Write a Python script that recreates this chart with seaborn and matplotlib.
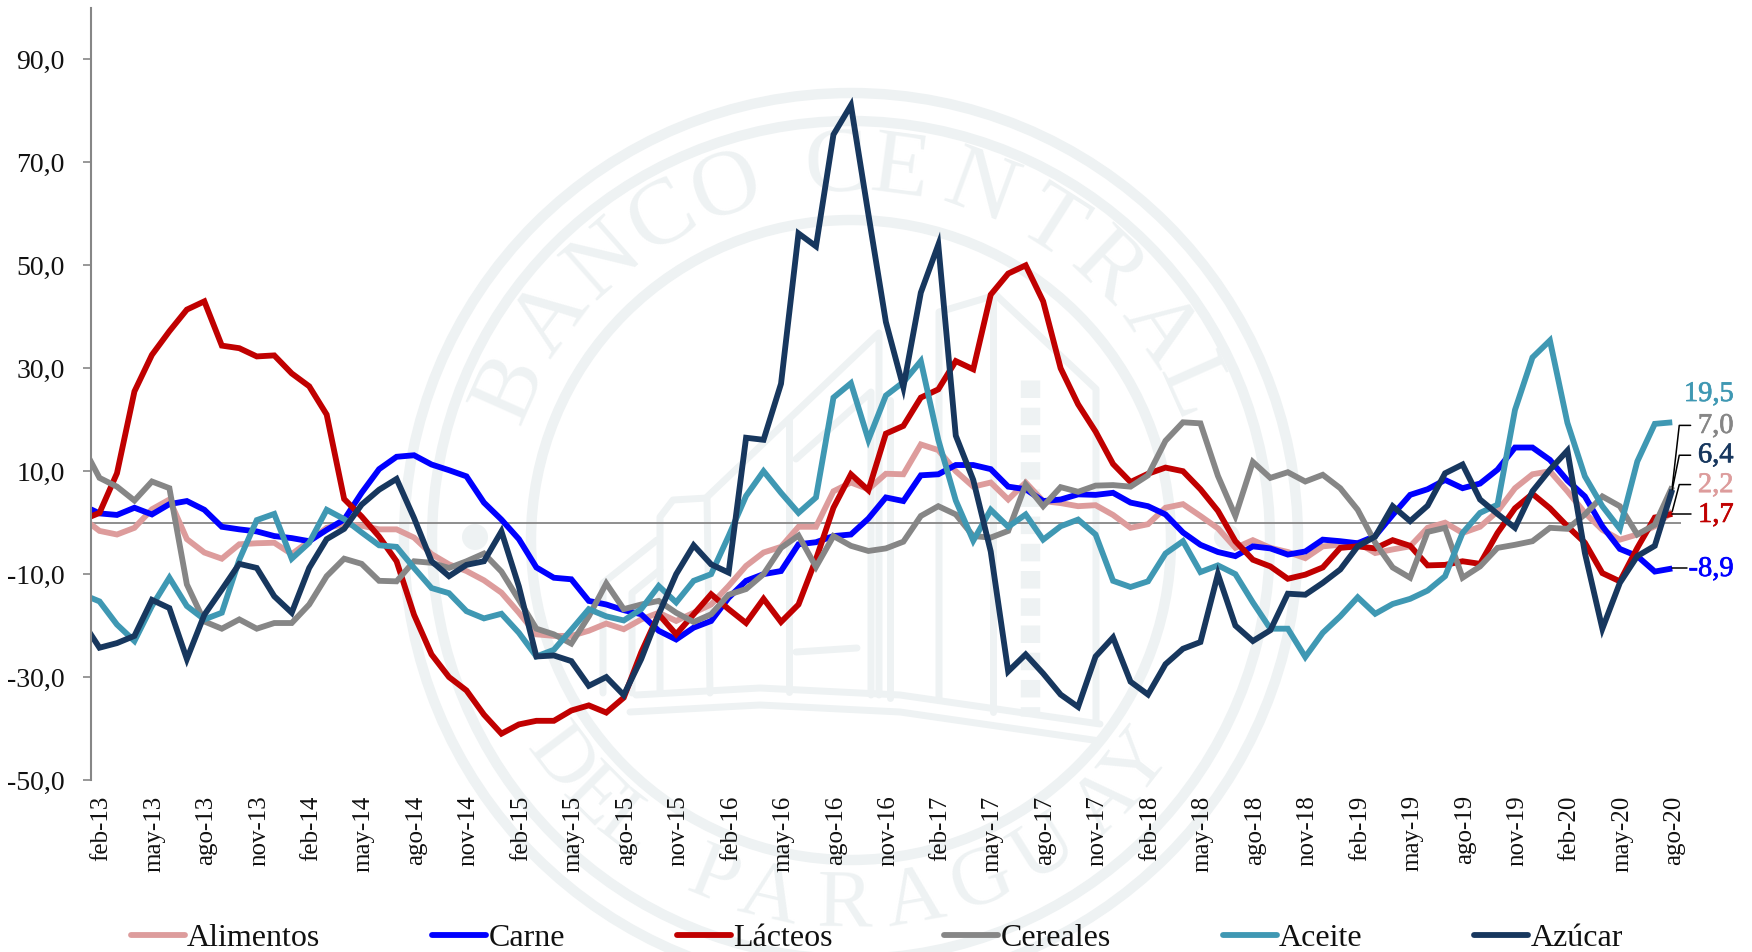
"""Variación interanual de precios de alimentos (FAO), feb-13 a ago-20."""

from __future__ import annotations

import matplotlib

matplotlib.use("Agg")

import matplotlib.patheffects as pe
import matplotlib.pyplot as plt
import matplotlib.transforms as mtrans
import numpy as np
import pandas as pd
import seaborn as sns

# Un punto extra (ene-13) al inicio: queda recortado por el eje izquierdo.
ALIMENTOS = [1.0,
             -1.6, -2.3, -1.0, 2.6, 4.5, -3.2, -5.8, -7.0, -4.2, -4.0,
             -3.9, -6.1, -3.6, -1.0, -0.3, -0.6, -1.3, -1.3, -2.9, -6.1,
             -8.1, -9.4, -11.2, -13.6, -17.5, -21.7, -22.0, -22.0, -21.0, -19.6,
             -20.7, -18.8, -17.5, -19.1, -17.5, -15.9, -12.3, -8.4, -5.8, -4.7,
             -0.8, -0.8, 6.1, 7.8, 6.5, 9.5, 9.4, 15.2, 14.1, 10.0,
             7.0, 7.8, 4.5, 7.8, 4.2, 3.8, 3.2, 3.4, 1.5, -1.0,
             -0.3, 2.9, 3.6, 1.3, -1.1, -4.9, -3.4, -4.9, -5.7, -6.9,
             -4.6, -4.3, -3.9, -5.9, -5.2, -4.6, -1.0, 0.0, -2.0, -0.8,
             2.2, 6.7, 9.4, 10.0, 6.1, 1.9, -1.4, -3.3, -2.3, -0.7,
             2.2]
CARNE = [3.4,
         1.8, 1.5, 2.9, 1.6, 3.6, 4.2, 2.5, -0.8, -1.3, -1.7,
         -2.6, -3.0, -3.6, -1.4, 0.6, 5.8, 10.4, 12.8, 13.1, 11.3,
         10.2, 9.0, 3.9, 0.6, -3.2, -8.7, -10.7, -11.0, -15.2, -15.9,
         -17.0, -17.8, -21.0, -22.7, -20.4, -19.1, -14.6, -11.3, -10.0, -9.4,
         -4.2, -3.8, -2.6, -2.3, 0.8, 4.9, 4.2, 9.2, 9.4, 11.2,
         11.2, 10.4, 7.0, 6.5, 4.2, 4.5, 5.5, 5.4, 5.8, 3.9,
         3.2, 1.6, -1.9, -4.3, -5.7, -6.5, -4.6, -5.0, -6.2, -5.6,
         -3.3, -3.6, -4.0, -2.6, 1.5, 5.4, 6.5, 8.3, 6.7, 7.6,
         10.3, 14.6, 14.6, 12.2, 8.2, 5.1, -0.7, -5.1, -6.5, -9.5,
         -8.9]
LACTEOS = [0.5,
           1.9, 9.6, 25.5, 32.6, 37.2, 41.4, 43.0, 34.4, 33.9, 32.3,
           32.5, 29.0, 26.5, 21.0, 4.6, 1.2, -2.7, -7.5, -17.9, -25.6,
           -30.0, -32.6, -37.3, -41.0, -39.2, -38.5, -38.5, -36.5, -35.5, -36.9,
           -34.0, -25.2, -17.8, -21.7, -17.8, -13.9, -16.8, -19.5, -14.8, -19.3,
           -15.9, -7.1, 2.9, 9.4, 6.3, 17.3, 18.8, 24.3, 25.9, 31.4,
           29.8, 44.3, 48.4, 50.0, 43.0, 30.0, 23.0, 17.7, 11.4, 7.9,
           9.5, 10.7, 10.0, 6.5, 2.3, -3.6, -7.2, -8.5, -10.9, -10.1,
           -8.7, -4.9, -4.6, -5.0, -3.4, -4.5, -8.3, -8.2, -7.5, -8.0,
           -2.0, 2.8, 5.6, 2.8, -0.7, -3.9, -9.8, -11.4, -4.9, 1.0,
           1.7]
CEREALES = [15.1,
            8.7, 7.0, 4.3, 8.0, 6.7, -12.0, -19.2, -20.6, -18.8, -20.6,
            -19.5, -19.5, -15.9, -10.4, -7.0, -8.0, -11.3, -11.4, -7.5, -7.8,
            -8.8, -7.5, -6.0, -9.5, -15.0, -20.6, -21.7, -23.5, -18.2, -11.8,
            -16.8, -15.9, -15.2, -17.5, -19.3, -17.8, -14.0, -12.9, -10.0, -4.9,
            -2.5, -8.6, -2.6, -4.5, -5.5, -5.0, -3.7, 1.3, 3.2, 1.6,
            -2.6, -2.9, -1.6, 7.4, 3.2, 6.9, 6.0, 7.2, 7.3, 7.0,
            9.2, 15.9, 19.5, 19.3, 9.1, 1.3, 11.8, 8.7, 9.8, 8.0,
            9.3, 6.7, 2.5, -3.9, -8.7, -10.7, -1.8, -1.0, -10.7, -8.5,
            -4.9, -4.3, -3.6, -1.0, -1.2, 1.6, 5.1, 3.2, -2.3, -0.4,
            7.0]
ACEITE = [-13.9,
          -15.3, -19.8, -23.0, -16.2, -10.7, -16.2, -18.8, -17.5, -7.2, 0.5,
          1.7, -7.0, -3.9, 2.5, 0.7, -1.9, -4.4, -4.7, -8.8, -12.7,
          -13.7, -17.2, -18.6, -17.7, -21.4, -26.0, -24.7, -20.8, -16.8, -18.2,
          -19.0, -16.8, -12.3, -15.5, -11.3, -10.0, -2.6, 5.2, 10.0, 5.8,
          1.9, 4.9, 24.3, 27.1, 16.1, 24.7, 27.3, 31.4, 16.1, 4.3,
          -3.5, 2.5, -0.8, 1.6, -3.3, -0.7, 0.6, -2.3, -11.3, -12.5,
          -11.4, -6.0, -3.6, -9.6, -8.3, -10.0, -15.5, -20.6, -20.6, -26.1,
          -21.4, -18.2, -14.5, -17.7, -15.8, -14.8, -13.2, -10.4, -2.0, 1.9,
          3.5, 21.9, 32.1, 35.4, 19.4, 9.0, 3.2, -1.2, 11.9, 19.2,
          19.5]
AZUCAR = [-19.1,
          -24.3, -23.4, -22.0, -15.0, -16.6, -26.5, -17.9, -13.0, -8.0, -8.8,
          -14.3, -17.5, -8.8, -3.2, -1.2, 3.5, 6.4, 8.5, 0.9, -7.5,
          -10.4, -8.2, -7.5, -1.7, -12.4, -26.0, -25.8, -26.9, -31.7, -30.0,
          -33.5, -26.5, -17.8, -10.0, -4.4, -8.1, -9.7, 16.5, 16.1, 27.0,
          56.2, 53.7, 75.4, 81.1, 59.9, 39.0, 26.3, 44.7, 54.0, 16.9,
          8.3, -5.6, -28.9, -25.6, -29.3, -33.4, -35.8, -26.0, -22.3, -30.9,
          -33.4, -27.5, -24.5, -23.2, -10.0, -20.0, -23.0, -20.9, -13.8, -14.0,
          -11.7, -9.1, -4.6, -2.7, 3.2, 0.3, 3.3, 9.6, 11.3, 4.5,
          1.7, -1.0, 6.1, 10.3, 14.0, -5.9, -20.6, -11.7, -6.5, -4.5,
          6.4]

SERIES = ["Alimentos", "Carne", "Lácteos", "Cereales", "Aceite", "Azúcar"]
COLORES = ["#DD9C9C", "#0000FF", "#C00000", "#868686", "#3F98B3", "#17375E"]

ETIQUETAS_X = ["feb-13", "may-13", "ago-13", "nov-13", "feb-14", "may-14", "ago-14", "nov-14",
               "feb-15", "may-15", "ago-15", "nov-15", "feb-16", "may-16", "ago-16", "nov-16",
               "feb-17", "may-17", "ago-17", "nov-17", "feb-18", "may-18", "ago-18", "nov-18",
               "feb-19", "may-19", "ago-19", "nov-19", "feb-20", "may-20", "ago-20"]
TICKS_Y = [-50, -30, -10, 10, 30, 50, 70, 90]

# Rótulos finales: serie, texto, altura del texto y codo de la línea guía.
ROTULOS = [("Aceite", "19,5", 24.9, None),
           ("Cereales", "7,0", 18.7, 18.9),
           ("Azúcar", "6,4", 13.0, 13.1),
           ("Alimentos", "2,2", 7.2, 7.4),
           ("Lácteos", "1,7", 1.4, 1.7),
           ("Carne", "-8,9", -9.1, -8.9)]

GRIS_SELLO = "#EEF2F3"
W, H = 1752, 952

sns.set_theme(style="white")
plt.rcParams["font.family"] = ["Liberation Serif", "DejaVu Serif"]


def dibujar_sello(fig):
    """Marca de agua del banco, en coordenadas de píxel de la figura."""
    ax = fig.add_axes([0, 0, 1, 1], zorder=0)
    ax.set_xlim(0, W)
    ax.set_ylim(H, 0)
    ax.axis("off")
    cx, cy = 851, 540
    for r in (447, 419, 320):
        ax.add_patch(plt.Circle((cx, cy), r, fill=False, ec=GRIS_SELLO, lw=7.5))
    for x in (475, 1227):
        ax.add_patch(plt.Circle((x, 537), 13, fc=GRIS_SELLO, ec="none"))

    arriba = zip("BANCOCENTRAL", [-66, -53.5, -41.5, -30.4, -19.5, -2.3, 7.6, 20.3, 32.5, 43.4, 55.6, 66])
    for letra, ang in arriba:
        t = np.radians(ang)
        ax.text(cx + 372 * np.sin(t), cy - 372 * np.cos(t), letra, rotation=-ang, rotation_mode="anchor",
                ha="center", va="center", fontsize=68, color=GRIS_SELLO)
    abajo = zip("DELPARAGUAY", [-53, -45, -38, -22, -13, -1, 10, 21, 32, 44, 52])
    for letra, ang in abajo:
        t = np.radians(ang)
        ax.text(cx + 366 * np.sin(t), cy + 366 * np.cos(t), letra, rotation=ang, rotation_mode="anchor",
                ha="center", va="center", fontsize=60, color=GRIS_SELLO)

    trazos = [
        [(603, 693), (603, 583), (657, 540)],
        [(632, 693), (632, 593), (660, 570)],
        [(660, 690), (660, 517), (673, 500), (707, 498), (710, 693)],
        [(707, 497), (879, 333), (879, 695)],
        [(796, 459), (871, 392), (871, 695)],
        [(789, 420), (789, 692)],
        [(890, 400), (890, 698)],
        [(939, 700), (939, 312), (996, 295), (1096, 389), (1096, 722)],
        [(993, 295), (993, 712)],
        [(796, 652), (857, 648)],
        [(636, 695), (760, 688), (900, 695), (1100, 724)],
        [(630, 712), (760, 705), (900, 712), (1100, 741)],
    ]
    for trazo in trazos:
        xs, ys = zip(*trazo)
        ax.plot(xs, ys, color=GRIS_SELLO, lw=5, solid_joinstyle="round")
    ax.plot([1030, 1030], [380, 716], color=GRIS_SELLO, lw=14, ls=(0, (0.9, 0.5)))


def main():
    fig = plt.figure(figsize=(W / 100, H / 100), dpi=100)
    dibujar_sello(fig)

    ax = fig.add_axes([91 / W, 1 - 780 / H, 1590 / W, 772 / H], zorder=1)
    ax.patch.set_alpha(0)

    valores = [ALIMENTOS, CARNE, LACTEOS, CEREALES, ACEITE, AZUCAR]
    df = pd.DataFrame({s: v for s, v in zip(SERIES, valores)})
    df["pos"] = np.arange(len(df)) - 1
    largo = df.melt(id_vars="pos", var_name="serie", value_name="valor")

    sns.lineplot(data=largo, x="pos", y="valor", hue="serie", hue_order=SERIES, palette=COLORES,
                 estimator=None, errorbar=None, lw=4.2, ax=ax, solid_joinstyle="miter",
                 solid_capstyle="butt")

    ax.axhline(0, color="#868686", lw=1.3, zorder=1.5)
    ax.set_xlim(-0.486, 90.5)
    ax.set_ylim(-50, 100)
    ax.set_xlabel("")
    ax.set_ylabel("")
    for lado in ("top", "right", "bottom"):
        ax.spines[lado].set_visible(False)
    ax.spines["left"].set_color("#868686")
    ax.spines["left"].set_linewidth(1.5)

    ax.set_yticks(TICKS_Y)
    ax.set_yticklabels([f"{v:.1f}".replace(".", ",") for v in TICKS_Y], fontsize=20, color="#111111")
    ax.tick_params(axis="y", left=True, length=6, width=1.2, color="#868686", pad=13)
    ax.set_xticks(np.arange(0, 91, 3))
    ax.set_xticklabels(ETIQUETAS_X, rotation=90, fontsize=18, color="#111111")
    ax.tick_params(axis="x", bottom=False, length=0, pad=11)
    desplazar = mtrans.ScaledTranslation(1.6 / 72, 0, fig.dpi_scale_trans)
    for etiqueta in ax.get_xticklabels():
        etiqueta.set_transform(etiqueta.get_transform() + desplazar)

    # Rótulos con línea guía al último dato.
    color_de = dict(zip(SERIES, COLORES))
    valor_final = dict(zip(SERIES, [v[-1] for v in valores]))
    for serie, texto, y_txt, codo in ROTULOS:
        t = ax.text(93.5, y_txt, texto, color=color_de[serie], fontsize=20.5, ha="right", va="center",
                    clip_on=False)
        t.set_path_effects([pe.withStroke(linewidth=0.5, foreground=color_de[serie])])
        if codo is None:
            continue
        fin = 90.85 if serie == "Carne" else 91.05
        xs, ys = ([90, 90.4, fin], [valor_final[serie], codo, codo])
        ax.plot(xs, ys, color="black", lw=1.1, clip_on=False, zorder=5)

    handles, labels = ax.get_legend_handles_labels()
    ax.get_legend().remove()
    for h in handles:
        h.set_solid_capstyle("round")
    fig.legend(handles, labels, ncol=6, loc="center left", bbox_to_anchor=(131 / W, 1 - 938 / H),
               frameon=False, fontsize=23, borderpad=0, borderaxespad=0, handlelength=1.69,
               handletextpad=0.07, columnspacing=3.5, labelcolor="#111111")

    fig.savefig("out.png", dpi=100)
    plt.close(fig)


if __name__ == "__main__":
    main()
